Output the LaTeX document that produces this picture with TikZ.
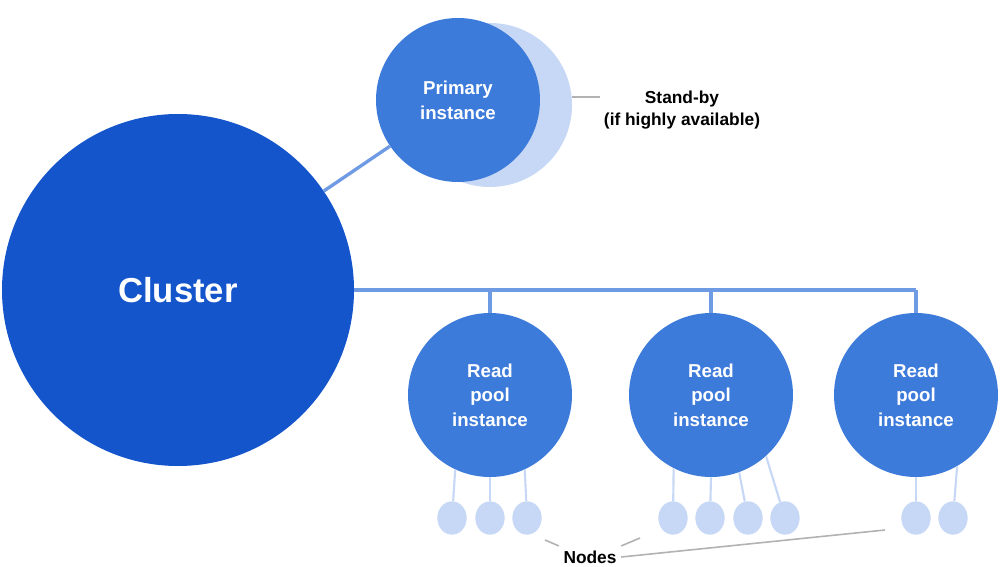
\documentclass[tikz,border=0pt]{standalone}
\usepackage{fontspec}
\setmainfont{Liberation Sans}
\usetikzlibrary{shapes.geometric}
\definecolor{clusterblue}{HTML}{1455CC}
\definecolor{instblue}{HTML}{3D7BDB}
\definecolor{paleblue}{HTML}{C6D8F5}
\definecolor{linkblue}{HTML}{6E9BE3}
\begin{document}
\begin{tikzpicture}[x=0.75pt,y=-0.75pt,
  inst/.style={circle,fill=instblue,text=white,font=\bfseries\fontsize{14}{18.5}\selectfont,align=center,minimum size=123pt,inner sep=0pt},
  nd/.style={ellipse,fill=paleblue,minimum width=22pt,minimum height=25pt,inner sep=0pt},
  link/.style={linkblue,line width=2.5pt},
  note/.style={gray!60,line width=1.2pt},
  lbl/.style={font=\bfseries\fontsize{13}{16}\selectfont,align=center}]
\useasboundingbox (0,0) rectangle (1000,567);
\node[circle,fill=paleblue,minimum size=123pt] (standby) at (490,105) {};
\node[inst] (primary) at (458,100) {Primary\\instance};
\node[circle,fill=clusterblue,text=white,font=\bfseries\fontsize{26}{30}\selectfont,minimum size=264pt] (cluster) at (178,290) {Cluster};
\node[inst] (rp1) at (490,395) {Read\\pool\\instance};
\node[inst] (rp2) at (711,395) {Read\\pool\\instance};
\node[inst] (rp3) at (916,395) {Read\\pool\\instance};
\node[lbl] (sblabel) at (682,110) {Stand-by\\(if highly available)};
\node[lbl] (nodes) at (590,557) {Nodes};
% connectors
\draw[link] (cluster) -- (primary);
\coordinate (bus) at (916,290);
\draw[link] (cluster.east |- 0,290) -- (bus);
\foreach \r in {rp1,rp2,rp3}
  \draw[link] (\r.north) -- (\r.north |- bus);
% nodes under read pools
\foreach \n/\x/\r/\a in {a1/452/rp1/245,a2/490/rp1/270,a3/527/rp1/295,
    b1/673/rp2/243,b2/710/rp2/270,b3/748/rp2/290,b4/785/rp2/312,
    c1/916/rp3/270,c2/953/rp3/300} {
  \node[nd] (\n) at (\x,518) {};
  \draw[paleblue,line width=1.6pt] (\r.\a) -- (\n);
}
% notes
\coordinate (sbend) at (600,97);
\draw[note] (standby.east |- sbend) -- (sbend);
\coordinate (n1) at (545,540);
\coordinate (n2) at (640,538);
\coordinate (n3) at (885,530);
\draw[note] (n1) -- (nodes.north west);
\draw[note] (n2) -- (nodes.north east);
\draw[note] (n3) -- (nodes.east);
\end{tikzpicture}
\end{document}
